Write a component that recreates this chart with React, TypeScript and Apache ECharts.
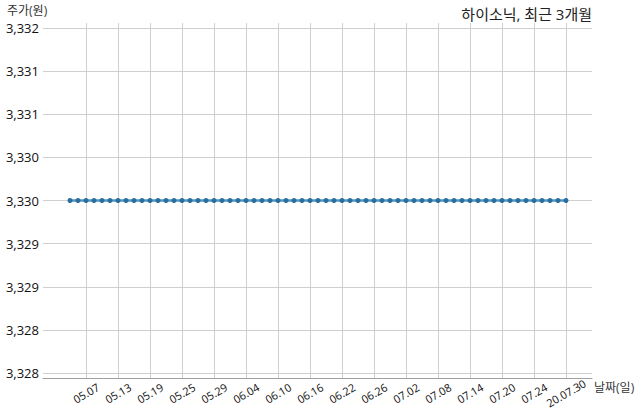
import { useEffect, useRef } from "react";
import * as echarts from "echarts";

// trading days, last 3 months
const dates = [
  "2020-05-04", "2020-05-06", "2020-05-07", "2020-05-08", "2020-05-11", "2020-05-12", "2020-05-13",
  "2020-05-14", "2020-05-15", "2020-05-18", "2020-05-19", "2020-05-20", "2020-05-21", "2020-05-22",
  "2020-05-25", "2020-05-26", "2020-05-27", "2020-05-28", "2020-05-29",
  "2020-06-01", "2020-06-02", "2020-06-03", "2020-06-04", "2020-06-05", "2020-06-08", "2020-06-09",
  "2020-06-10", "2020-06-11", "2020-06-12", "2020-06-15", "2020-06-16", "2020-06-17", "2020-06-18",
  "2020-06-19", "2020-06-22", "2020-06-23", "2020-06-24", "2020-06-25", "2020-06-26", "2020-06-29",
  "2020-06-30",
  "2020-07-01", "2020-07-02", "2020-07-03", "2020-07-06", "2020-07-07", "2020-07-08", "2020-07-09",
  "2020-07-10", "2020-07-13", "2020-07-14", "2020-07-15", "2020-07-16", "2020-07-17", "2020-07-20",
  "2020-07-21", "2020-07-22", "2020-07-23", "2020-07-24", "2020-07-27", "2020-07-28", "2020-07-29",
  "2020-07-30",
];

const prices = [
  3330, 3330, 3330, 3330, 3330, 3330, 3330, 3330, 3330, 3330, 3330, 3330, 3330, 3330,
  3330, 3330, 3330, 3330, 3330, 3330, 3330, 3330, 3330, 3330, 3330, 3330, 3330, 3330,
  3330, 3330, 3330, 3330, 3330, 3330, 3330, 3330, 3330, 3330, 3330, 3330, 3330, 3330,
  3330, 3330, 3330, 3330, 3330, 3330, 3330, 3330, 3330, 3330, 3330, 3330, 3330, 3330,
  3330, 3330, 3330, 3330, 3330, 3330, 3330,
];

const yTicks = { min: 3328, max: 3332, step: 0.5 };

const TITLE = "하이소닉, 최근 3개월";
const Y_NAME = "주가(원)";
const X_NAME = "날짜(일)";

const FONT = "'Open Sans', 'Noto Sans CJK KR', sans-serif";

// every 4th trading day, counted back from the last one
const showTick = (i: number) => (dates.length - 1 - i) % 4 === 0;

const fmtDate = (d: string, i: number) => {
  const [y, m, day] = d.split("-");
  return i === dates.length - 1 ? `${y.slice(2)}.${m}.${day}` : `${m}.${day}`;
};

export default function App() {
  const chartRef = useRef<HTMLDivElement>(null);

  useEffect(() => {
    if (!chartRef.current) return;
    const chart = echarts.init(chartRef.current, undefined, { renderer: "svg" });

    const option: echarts.EChartsOption = {
      animation: false,
      textStyle: { fontFamily: FONT },
      grid: [
        // frame: horizontal grid + bottom spine
        { left: 43, right: 48, top: 28, bottom: 46 },
        // data area
        { left: 70, right: 74, top: 23, bottom: 41 },
      ],
      xAxis: [
        {
          type: "value",
          gridIndex: 0,
          min: 0,
          max: 1,
          offset: 5,
          axisLine: { show: true, lineStyle: { color: "#a0a0a0", width: 1 } },
          axisTick: { show: false },
          axisLabel: { show: false },
          splitLine: { show: false },
        },
        {
          type: "category",
          gridIndex: 1,
          data: dates,
          boundaryGap: false,
          axisLine: { show: false },
          axisTick: { show: false },
          splitLine: {
            show: true,
            interval: (i: number) => showTick(i),
            lineStyle: { color: "#cfcfcf", width: 1 },
          },
          axisLabel: {
            interval: (i: number) => showTick(i),
            formatter: (v: string, i: number) => fmtDate(v, i),
            rotate: 30,
            align: "center",
            verticalAlign: "middle",
            margin: 15,
            fontSize: 11,
            color: "#111",
            fontFamily: FONT,
          },
        },
      ],
      yAxis: [
        {
          type: "value",
          gridIndex: 0,
          min: yTicks.min,
          max: yTicks.max,
          interval: yTicks.step,
          axisLine: { show: false },
          axisTick: { show: false },
          splitLine: { show: true, lineStyle: { color: "#cfcfcf", width: 1 } },
          axisLabel: {
            margin: 4,
            fontSize: 13,
            lineHeight: 14,
            color: "#111",
            fontFamily: FONT,
            formatter: (v: number) => Math.floor(v).toLocaleString("en-US"),
          },
        },
        {
          type: "value",
          gridIndex: 1,
          min: yTicks.min - 0.058,
          max: yTicks.max + 0.058,
          show: false,
        },
      ],
      series: [
        {
          type: "line",
          xAxisIndex: 1,
          yAxisIndex: 1,
          data: prices,
          symbol: "circle",
          symbolSize: 5,
          lineStyle: { color: "#4a94c6", width: 2.5 },
          itemStyle: { color: "#2d6e9c", borderWidth: 0 },
        },
      ],
      graphic: [
        {
          type: "text",
          right: 48,
          top: 6,
          style: { text: TITLE, fill: "#222", font: `normal 15px ${FONT}` },
        },
        {
          type: "text",
          left: 7,
          top: 4,
          style: { text: Y_NAME, fill: "#333", font: `normal 12px ${FONT}`, lineHeight: 13 },
        },
        {
          type: "text",
          left: 594,
          top: 381,
          style: { text: X_NAME, fill: "#333", font: `normal 12px ${FONT}` },
        },
      ],
    };

    chart.setOption(option);
    return () => chart.dispose();
  }, []);

  return (
    <div style={{ position: "fixed", left: 0, top: 0, width: 640, height: 419, background: "#fff" }}>
      <div ref={chartRef} style={{ width: 640, height: 419 }} />
    </div>
  );
}
